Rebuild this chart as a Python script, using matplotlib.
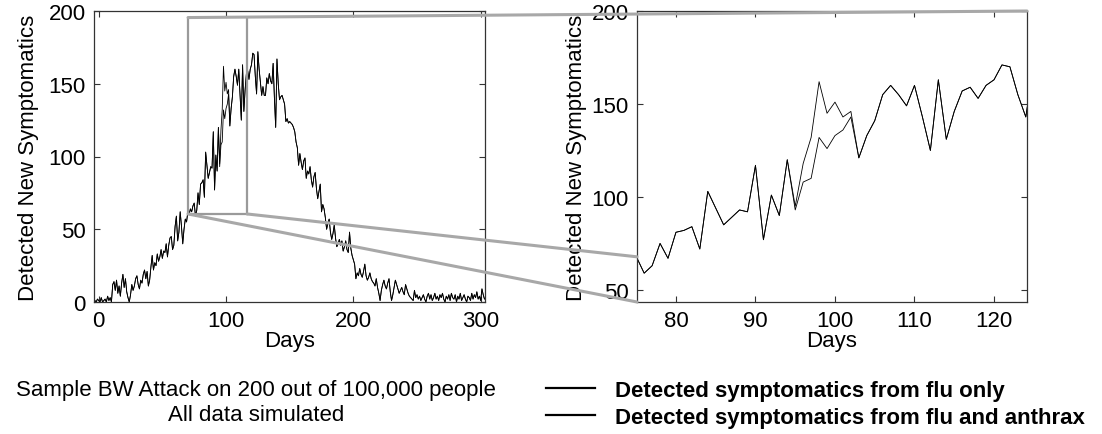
import numpy as np
import matplotlib
matplotlib.use("Agg")
import matplotlib.pyplot as plt
from matplotlib.patches import ConnectionPatch
from matplotlib.lines import Line2D
from matplotlib import font_manager

names = {f.name for f in font_manager.fontManager.ttflist}
font = "Liberation Sans" if "Liberation Sans" in names else "DejaVu Sans"
plt.rcParams["font.family"] = [font, "DejaVu Sans"]

# detected new symptomatics per day, flu only (first value is day -4)
flu_only = [
    0, 1, 0, 2, 1, 0, 3, 0, 1, 2, 0, 4, 1, 3, 0,                      # -4..10
    12, 14, 8, 15, 6, 11, 4, 13, 19, 10, 16, 7, 3, 0,                 # 11..24
    5, 12, 8, 11, 16, 18, 12, 9, 15, 13, 19, 22, 16, 21, 11,          # 25..39
    15, 24, 32, 22, 27, 25, 33, 28, 31, 36, 30, 35, 34, 40, 31,       # 40..54
    39, 44, 45, 36, 39, 52, 59, 42, 48, 62, 52, 40, 50, 57, 55,       # 55..69
    62, 60, 64, 62, 66,                                               # 70..74
    68, 59, 63, 75, 67, 81, 82, 84, 72, 103, 94, 85, 89, 93, 92,      # 75..89
    117, 77, 101, 90, 120, 93, 108, 110, 132, 126, 133, 136, 143,     # 90..102
    121, 133, 141, 155, 160, 155, 149, 160, 143, 125, 163, 131,       # 103..114
    146, 157, 159, 153, 160, 163, 171, 170, 155, 143, 172,            # 115..125
    160, 151, 142, 148, 142, 142, 154, 150, 157, 152, 150, 164, 140,  # 126..138
    120, 167, 150, 139, 141, 142, 139, 136, 124, 126, 123, 124, 123,  # 139..151
    122, 120, 117, 110, 106, 94, 102, 96, 91, 97, 99, 85, 90, 88,     # 152..165
    93, 84, 79, 86, 89, 78, 71, 76, 81, 62, 67, 64, 58, 50, 54,       # 166..180
    57, 48, 43, 47, 53, 44, 38, 40, 43, 39, 42, 35, 38, 42, 36,       # 181..195
    34, 48, 37, 32, 29, 26, 16, 20, 18, 23, 19, 17, 21, 26, 18,       # 196..210
    15, 17, 20, 16, 14, 13, 11, 16, 10, 6, 1, 8, 12, 15, 11,          # 211..225
    9, 13, 16, 7, 1, 5, 10, 15, 12, 9, 6, 8, 10, 7, 5,                # 226..240
    12, 9, 6, 4, 3, 2, 1, 8, 3, 5, 2, 4, 1, 3, 5,                     # 241..255
    2, 0, 4, 6, 2, 5, 1, 3, 6, 2, 4, 1, 5, 3, 6,                      # 256..270
    2, 0, 4, 2, 5, 1, 6, 3, 2, 5, 0, 4, 2, 6, 1,                      # 271..285
    3, 5, 2, 0, 4, 3, 1, 6, 2, 5, 3, 7, 2, 4, 1,                      # 286..300
    9, 5, 2, 3,                                                       # 301..304
]
first_day = -4

# days where the anthrax cases add to the flu counts
anthrax_days = [95, 96, 97, 98, 99, 100, 101, 102]
with_anthrax_vals = [95, 118, 132, 162, 145, 151, 143, 146]

days = np.arange(len(flu_only)) + first_day
flu = np.array(flu_only, dtype=float)
both = flu.copy()
both[np.array(anthrax_days) - first_day] = with_anthrax_vals

fig = plt.figure(figsize=(11.02, 4.35), dpi=100)
ax1 = fig.add_axes([94 / 1102, 1 - 303 / 435, 391 / 1102, 291 / 435])
ax2 = fig.add_axes([637 / 1102, 1 - 303 / 435, 390 / 1102, 291 / 435])

fs = 16
line_kw = dict(color="black", lw=0.6)
for ax in (ax1, ax2):
    ax.plot(days, both, **line_kw)
    ax.plot(days, flu, **line_kw)
    ax.tick_params(direction="in", length=4, width=0.8, top=True, right=True,
                   labelsize=fs, pad=6, color="#333333")
    for s in ax.spines.values():
        s.set_color("#333333")
        s.set_linewidth(0.9)
    ax.set_xlabel("Days", fontsize=fs, labelpad=-1)
    ax.set_ylabel("Detected New Symptomatics", fontsize=fs, labelpad=7)

ax1.set_xlim(-3.7, 303.4)
ax1.set_ylim(0, 200)
ax1.set_xticks([0, 100, 200, 300])
ax1.set_yticks([0, 50, 100, 150, 200])

ax2.set_xlim(75.1, 124.15)
ax2.set_ylim(43.5, 200)
ax2.set_xticks([80, 90, 100, 110, 120])
ax2.set_yticks([50, 100, 150, 200])
ax2.yaxis.labelpad = 3

# zoom box on the left plot and connectors to the right plot
bx0, bx1, by0, by1 = 70.2, 116.6, 60.5, 195.5
box_kw = dict(color="#9a9a9a", lw=1.6, clip_on=False, zorder=3)
ax1.plot([bx0, bx0], [by0, by1], **box_kw)
ax1.plot([bx1, bx1], [by0, by1], **box_kw)
ax1.plot([bx0, bx1], [by0, by0], **box_kw)

con_kw = dict(coordsA="data", coordsB="data", axesA=ax1, axesB=ax2,
              color="#a8a8a8", lw=2.2, zorder=5)
x2l, x2r = ax2.get_xlim()
y2b, y2t = ax2.get_ylim()
for pa, pb in [((bx0, by1), (x2r, y2t)),
               ((bx0, by0), (x2l, y2b)),
               ((bx1, by0), (x2l, 67.8))]:
    fig.add_artist(ConnectionPatch(xyA=pa, xyB=pb, **con_kw))

fig.text(256 / 1102, 1 - 391 / 435, "Sample BW Attack on 200 out of 100,000 people",
         ha="center", va="center", fontsize=fs)
fig.text(256 / 1102, 1 - 416 / 435, "All data simulated",
         ha="center", va="center", fontsize=fs)

handles = [Line2D([], [], color="black", lw=1.6), Line2D([], [], color="black", lw=1.6)]
fig.legend(handles, ["Detected symptomatics from flu only",
                     "Detected symptomatics from flu and anthrax"],
           loc="upper left", bbox_to_anchor=(546 / 1102, 1 - 381 / 435),
           frameon=False, borderpad=0, borderaxespad=0, handlelength=2.2,
           handletextpad=0.9, labelspacing=0.25,
           prop={"size": fs, "weight": "bold"})

fig.savefig("out.png", dpi=100)
